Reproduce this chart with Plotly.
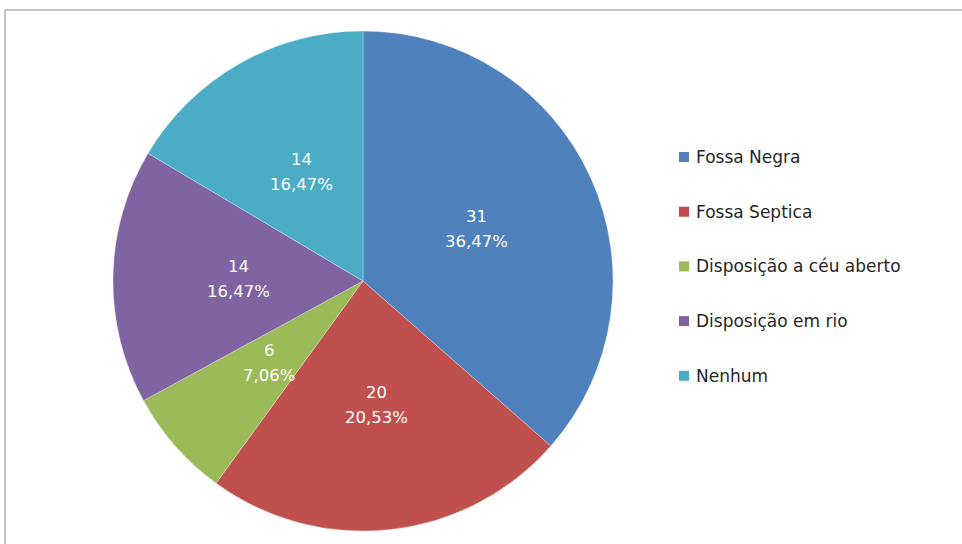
import math
import plotly.graph_objects as go

# Tipo de esgotamento sanitário
categorias = ["Fossa Negra", "Fossa Septica", "Disposição a céu aberto",
              "Disposição em rio", "Nenhum"]
valores = [31, 20, 6, 14, 14]
percentuais = ["36,47%", "20,53%", "7,06%", "16,47%", "16,47%"]
cores = ["#4F81BD", "#C0504D", "#9BBB59", "#8064A2", "#4BACC6"]

W, H = 962, 544
FONT = "'DejaVu Sans', 'Noto Sans', sans-serif"

# Área da pizza (em pixels) e sua tradução para coordenadas de papel
cx_px, cy_px, raio_px = 363, 281, 250
dom_x = [(cx_px - raio_px) / W, (cx_px + raio_px) / W]
dom_y = [1 - (cy_px + raio_px) / H, 1 - (cy_px - raio_px) / H]

fig = go.Figure(go.Pie(
    labels=categorias,
    values=valores,
    textinfo="none",
    marker=dict(colors=cores, line=dict(color="rgba(255,255,255,0.6)", width=0.5)),
    sort=False,
    direction="clockwise",
    rotation=0,
    hoverinfo="label+value",
    domain=dict(x=dom_x, y=dom_y),
    showlegend=False,
))

annotations = []

# Rótulos de dados no meio de cada fatia (metade do raio, ângulo médio):
# valor na linha de cima, percentual na de baixo
total = sum(valores)
acumulado = 0
for v, p in zip(valores, percentuais):
    ang = 2 * math.pi * (acumulado + v / 2) / total
    acumulado += v
    x_px = cx_px + 0.5 * raio_px * math.sin(ang)
    y_px = cy_px - 0.5 * raio_px * math.cos(ang)
    for texto, desloc in ((str(v), 12.5), (p, -12.5)):
        annotations.append(dict(
            x=x_px / W, y=1 - y_px / H, xref="paper", yref="paper",
            text=texto, showarrow=False, xanchor="center", yanchor="middle",
            yshift=desloc, font=dict(size=16.5, color="white", family=FONT)))

# Moldura do gráfico
shapes = [
    dict(type="line", xref="paper", yref="paper", x0=5 / W, x1=5 / W,
         y0=0, y1=1 - 10 / H, line=dict(color="#8a8a8a", width=1)),
    dict(type="line", xref="paper", yref="paper", x0=5 / W, x1=1,
         y0=1 - 10 / H, y1=1 - 10 / H, line=dict(color="#8a8a8a", width=1)),
]

# Legenda desenhada à direita
y_topo, passo = 157, 54.7
for i, (nome, cor) in enumerate(zip(categorias, cores)):
    yc = y_topo + i * passo
    shapes.append(dict(type="rect", xref="paper", yref="paper",
                       x0=679 / W, x1=689 / W,
                       y0=1 - (yc + 5) / H, y1=1 - (yc - 5) / H,
                       fillcolor=cor, line=dict(width=0)))
    annotations.append(dict(x=694 / W, y=1 - yc / H, xref="paper", yref="paper",
                            text=nome, showarrow=False, xanchor="left",
                            yanchor="middle",
                            font=dict(size=17, color="#262626", family=FONT)))

fig.update_layout(
    width=W, height=H,
    margin=dict(l=0, r=0, t=0, b=0),
    paper_bgcolor="white",
    plot_bgcolor="white",
    shapes=shapes,
    annotations=annotations,
)

fig.write_html("out.html")
